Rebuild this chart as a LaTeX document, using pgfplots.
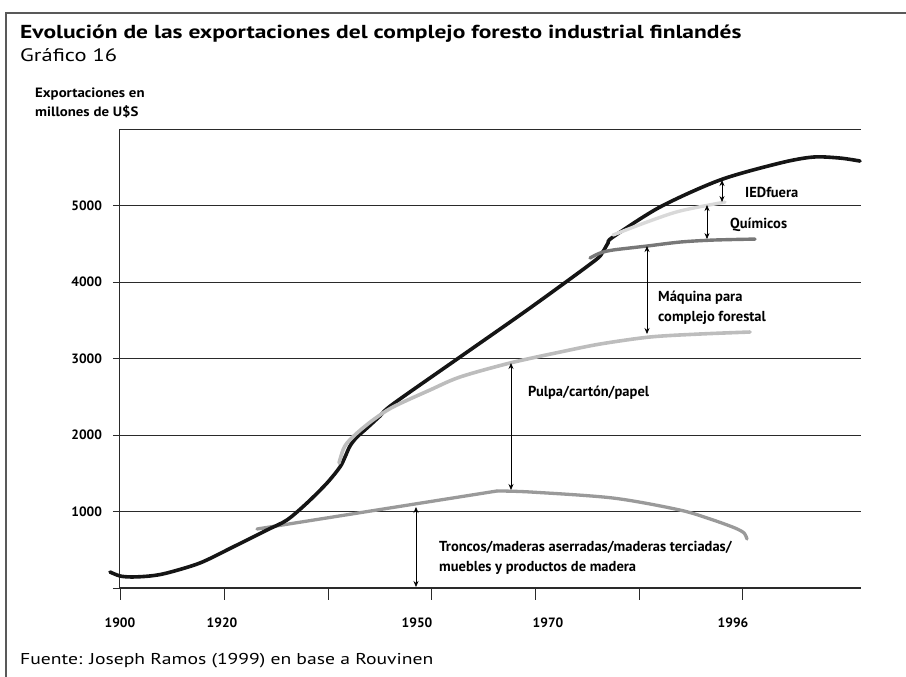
\documentclass[border=0pt]{standalone}
\usepackage{pgfplots}
\pgfplotsset{compat=1.18}
\usetikzlibrary{arrows.meta}
\usepackage{fontspec}
\setmainfont{PT Sans}
\newfontfamily\widefont{PT Sans}[FakeStretch=1.25]
\newfontfamily\midfont{PT Sans}[FakeStretch=1.1]
\definecolor{cblack}{HTML}{151515}
\definecolor{cpulp}{HTML}{BDBDBD}
\definecolor{cwood}{HTML}{9A9A9A}
\definecolor{cmach}{HTML}{787878}
\definecolor{cchem}{HTML}{D9D9D9}
\definecolor{cgrid}{HTML}{2A2A2A}
\begin{document}
\begin{tikzpicture}
\begin{axis}[
  name=ax,
  scale only axis, width=741pt, height=459pt,
  xmin=120, xmax=861, ymin=0, ymax=6000,
  axis x line=bottom, axis y line=left,
  axis line style={-, line width=1pt, color=cgrid},
  tick align=outside,
  major tick length=7pt,
  xtick=\empty,
  extra x ticks={120,222,417,548,733},
  extra x tick labels={1900,1920,1950,1970,1996},
  extra x tick style={major tick length=0pt, grid=none,
     xticklabel style={anchor=center, yshift=-35pt}},
  ytick={0,1000,2000,3000,4000,5000},
  yticklabels={,1000,2000,3000,4000,5000},
  y tick style={line width=0.9pt, color=cgrid},
  ymajorgrids, major grid style={line width=0.9pt, color=cgrid},
  yticklabel style={anchor=east, xshift=-7.5pt},
  tick label style={font=\bfseries\fontsize{13.5}{15}\selectfont},
  extra y ticks={6000}, extra y tick labels={},
  extra y tick style={major tick length=0pt, grid=major},
  clip=false,
]
\coordinate (O) at (axis cs:120,0);
% x tick marks (downward, 12px)
\addplot[ycomb, cgrid, line width=0.9pt, mark=none] coordinates {
(120,-157) (224,-157) (328,-157) (431,-157) (535,-157) (639,-157) (742,-157)};
\addplot[cwood, line width=3.3pt, line cap=round] coordinates {(257,771) (497,1268)};
\addplot[cwood, line width=3.3pt, smooth, line cap=round] coordinates {
(497,1268) (530,1255) (613,1176) (680,1019) (713,889) (735,784) (744,719) (747,640)};
\addplot[cblack, line width=3.6pt, smooth, tension=0.5, line cap=round] coordinates {
(110,209) (120,157) (132,144) (150,157) (167,196) (200,327) (233,536) (267,758)
(287,889) (307,1111) (327,1372) (340,1582) (345,1712) (350,1856) (357,1974)
(367,2091) (380,2248) (393,2405) (460,3019) (530,3660) (593,4261) (602,4378)
(608,4509) (613,4588) (660,4980) (720,5333) (780,5555) (813,5633) (840,5620) (860,5581)};
\addplot[cpulp, line width=3.6pt, smooth, line cap=round] coordinates {
(339,1634) (343,1804) (347,1895) (357,2026) (373,2196) (393,2366) (430,2588)
(460,2758) (510,2941) (560,3084) (600,3189) (650,3281) (700,3320) (750,3346)};
\addplot[cmach, line width=3.4pt, smooth, line cap=round] coordinates {
(590,4313) (600,4378) (613,4418) (647,4470) (680,4522) (713,4548) (755,4561)};
\addplot[cchem, line width=3.4pt, smooth, line cap=round] coordinates {
(613,4614) (647,4784) (680,4928) (725,5045)};
\draw[{Stealth[length=6pt,width=5pt]}-{Stealth[length=6pt,width=5pt]}, line width=0.7pt] (axis cs:722,5333) -- (axis cs:722,5045);
\draw[{Stealth[length=6pt,width=5pt]}-{Stealth[length=6pt,width=5pt]}, line width=0.7pt] (axis cs:707,5006) -- (axis cs:707,4561);
\draw[{Stealth[length=6pt,width=5pt]}-{Stealth[length=6pt,width=5pt]}, line width=0.7pt] (axis cs:647,4470) -- (axis cs:647,3320);
\draw[{Stealth[length=6pt,width=5pt]}-{Stealth[length=6pt,width=5pt]}, line width=0.7pt] (axis cs:511,2941) -- (axis cs:511,1281);
\draw[{Stealth[length=6pt,width=5pt]}-{Stealth[length=6pt,width=5pt]}, line width=0.7pt] (axis cs:416,1059) -- (axis cs:416,13);
\begin{scope}[every node/.style={anchor=west, inner sep=0pt, align=left, font=\bfseries\fontsize{14.5}{20}\selectfont}]
\node at (axis cs:745,5176) {IEDfuera};
\node at (axis cs:730,4745) {Químicos};
\node at (axis cs:658,3660) {Máquina para\\complejo forestal};
\node at (axis cs:528,2549) {Pulpa/cartón/papel};
\node at (axis cs:439,392) {Troncos/maderas aserradas/maderas terciadas/\\muebles y productos de madera};
\end{scope}
\end{axis}
\begin{scope}[shift={(O)}]
\draw[line width=1.4pt, black!65] (-114pt,-89pt) -- (-114pt,575pt) -- (786pt,575pt);
\node[anchor=base west, inner sep=0pt, font=\widefont\bfseries\fontsize{18.8}{21}\selectfont] at (-100pt,549pt) {Evolución de las exportaciones del complejo foresto industrial finlandés};
\node[anchor=base west, inner sep=0pt, font=\widefont\fontsize{18}{20}\selectfont] at (-100pt,526pt) {Gráfico 16};
\node[anchor=base west, inner sep=0pt, font=\midfont\bfseries\fontsize{13.5}{18.5}\selectfont] at (-85pt,490pt) {Exportaciones en};
\node[anchor=base west, inner sep=0pt, font=\midfont\bfseries\fontsize{13.5}{18.5}\selectfont] at (-85pt,471.5pt) {millones de U\$S};
\node[anchor=base west, inner sep=0pt, font=\widefont\fontsize{15.7}{18}\selectfont] at (-100pt,-77pt) {Fuente: Joseph Ramos (1999) en base a Rouvinen};
\pgfresetboundingbox
\useasboundingbox (-120pt,-89pt) rectangle (786pt,588pt);
\end{scope}
\end{tikzpicture}
\end{document}
